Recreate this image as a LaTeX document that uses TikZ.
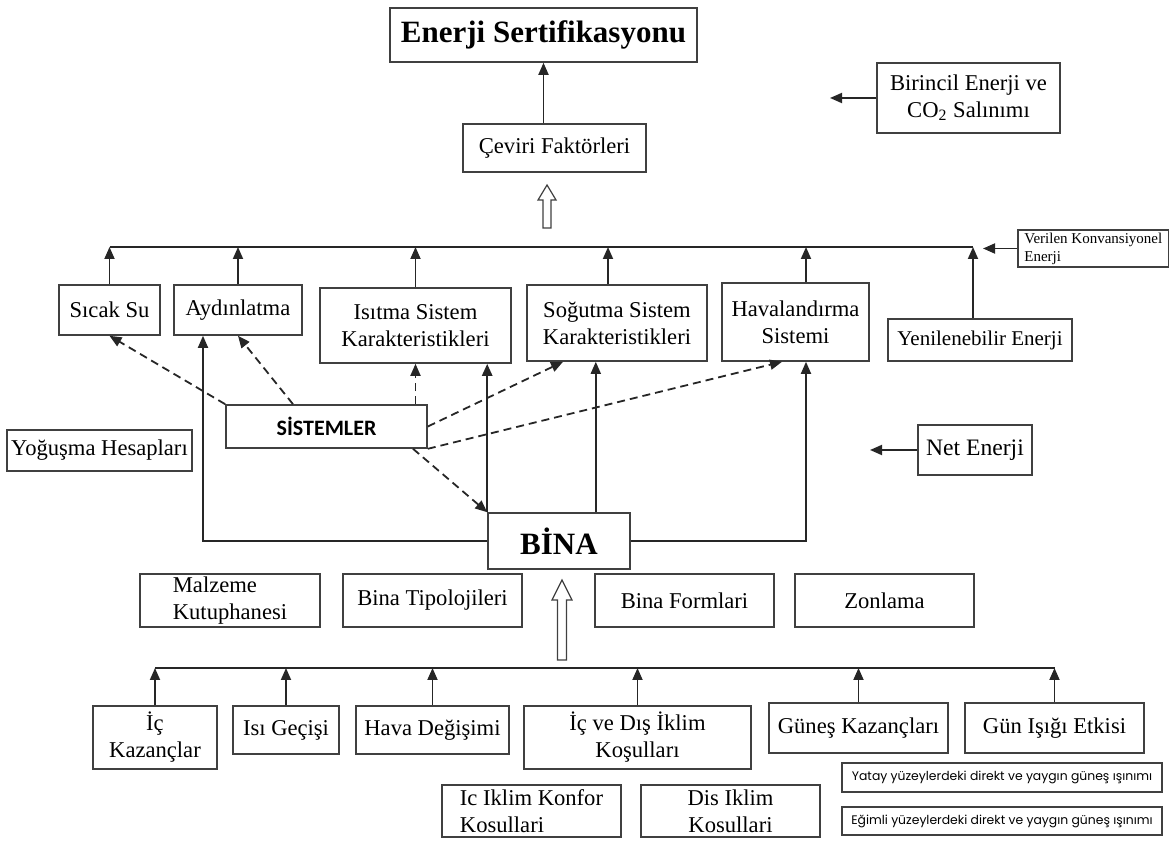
\documentclass[tikz,border=0pt]{standalone}
\usepackage{fontspec}
\setmainfont{Liberation Serif}
\newfontfamily\sistfont{Carlito}
\newfontfamily\gothfont{Poppins}
\usepackage{tikz}
\usetikzlibrary{arrows.meta}

\begin{document}
\begin{tikzpicture}[x=0.5pt,y=-0.5pt,
  box/.style={draw=black!75,line width=0.8pt,inner sep=1pt,align=center,font=\fontsize{11.3}{13.5}\selectfont},
  sz/.style 2 args={minimum width=#1*0.5pt,minimum height=#2*0.5pt},
  arr/.style={draw=black!85,line width=0.9pt,-{Triangle[length=6pt,width=5pt]}},
  darr/.style={arr,dash pattern=on 4pt off 2.5pt},
  link/.style={draw=black!85,line width=0.9pt},
  hollow/.style={draw=black!75,line width=0.6pt,fill=white}]
\useasboundingbox (0,0) rectangle (1169,844);

% certificate and conversion
\node[box,sz={307}{54},font=\fontsize{15.5}{18}\selectfont\bfseries] (cert) at (543.5,35) {Enerji Sertifikasyonu};
\node[box,sz={183}{48}] (ceviri) at (554.5,148) {Çeviri Faktörleri};
\node[box,sz={183}{70}] (birincil) at (968.5,98) {Birincil Enerji ve\\CO\textsubscript{2} Salınımı};
\node[box,sz={151}{37},anchor=west,align=left,inner xsep=2pt,font=\fontsize{7.5}{9}\selectfont] (verilen) at (1017,248.5) {Verilen Konvansiyonel\\Enerji};

% systems
\node[box,sz={101}{50}] (sicak) at (109.5,310) {Sıcak Su};
\node[box,sz={128}{50}] (aydin) at (238,310) {Aydınlatma};
\node[box,sz={191}{75}] (isitma) at (415.5,325.5) {Isıtma Sistem\\Karakteristikleri};
\node[box,sz={180}{76}] (sogutma) at (617,323) {Soğutma Sistem\\Karakteristikleri};
\node[box,sz={147}{78}] (havalan) at (795.5,322) {Havalandırma\\Sistemi};
\node[box,sz={184}{42},font=\fontsize{10.5}{12}\selectfont] (yenilen) at (980,340) {Yenilenebilir Enerji};
\node[box,sz={114}{50},font=\fontsize{11.8}{14}\selectfont] (net) at (975,450) {Net Enerji};
\node[box,sz={201}{43},font=\sistfont\bfseries\fontsize{11}{13}\selectfont] (sistem) at (326.5,426.5) {SİSTEMLER};
\node[box,sz={185}{41}] (yogusma) at (99.5,450.5) {Yoğuşma Hesapları};

% building
\node[box,sz={142}{56},font=\fontsize{15.5}{18}\selectfont\bfseries] (bina) at (559,541) {BİNA};
\node[box,sz={180}{53},align=left] (malzeme) at (230,600.5) {Malzeme\\Kutuphanesi};
\node[box,sz={179}{53}] (tipo) at (432.5,600.5) {Bina Tipolojileri};
\node[box,sz={179}{53}] (formlar) at (684.5,600.5) {Bina Formlari};
\node[box,sz={179}{53}] (zonlama) at (884.5,600.5) {Zonlama};

% inputs
\node[box,sz={124}{63}] (ickaz) at (155,737.5) {İç\\Kazançlar};
\node[box,sz={106}{48}] (isigec) at (286,730) {Isı Geçişi};
\node[box,sz={153}{48}] (hava) at (432.5,730) {Hava Değişimi};
\node[box,sz={227}{63}] (icdis) at (637.5,737.5) {İç ve Dış İklim\\Koşulları};
\node[box,sz={179}{50}] (gunes) at (858.5,728) {Güneş Kazançları};
\node[box,sz={179}{50}] (gunisigi) at (1054.5,728) {Gün Işığı Etkisi};
\node[box,sz={179}{52},align=left] (ickon) at (531.5,811) {Ic Iklim Konfor\\Kosullari};
\node[box,sz={179}{52}] (disik) at (730.5,811) {Dis Iklim\\Kosullari};
\node[box,sz={320}{29},font=\gothfont\fontsize{6.2}{7}\selectfont] (yatay) at (1002,777.5) {Yatay yüzeylerdeki direkt ve yaygın güneş ışınımı};
\node[box,sz={320}{28},font=\gothfont\fontsize{6.2}{7}\selectfont] (egimli) at (1002,821) {Eğimli yüzeylerdeki direkt ve yaygın güneş ışınımı};

\coordinate (tline) at (0,247);
\coordinate (bline) at (0,668);
\coordinate (ren) at ([xshift=-3.5pt]yenilen.north);
\coordinate (ay) at (203,541);
\coordinate (hv) at (806,541);
\coordinate (vk) at (983,247);
\coordinate (bz) at (830,98);
\coordinate (nz) at (870,450);

% upper connectors
\draw[arr] (ceviri.north -| cert.south) -- (cert.south);
\draw[hollow] (547,185) -- (556,200) -- (551,200) -- (551,228) -- (543,228) -- (543,200) -- (538,200) -- cycle;
\draw[link] (sicak.north |- tline) -- (ren |- tline);
\foreach \n in {sicak,aydin,isitma}
  \draw[arr] (\n.north) -- (\n.north |- tline);
\draw[arr] ([xshift=-4.5pt]sogutma.north) -- ([xshift=-4.5pt]sogutma.north |- tline);
\draw[arr] (hv |- havalan.north) -- (hv |- tline);
\draw[arr] (ren) -- (ren |- tline);
\draw[arr] (verilen.west) -- (verilen.west -| vk);
\draw[arr] (birincil.west) -- (birincil.west -| bz);
\draw[arr] (net.west) -- (net.west -| nz);

% dashed links from the systems
\draw[darr] (sistem.north west) -- (sicak.south);
\draw[darr] ([xshift=-16.75pt]sistem.north) -- (aydin.south);
\draw[darr] (sistem.north -| isitma.south) -- (isitma.south);
\draw[darr] (sistem.east) -- ([xshift=-27pt]sogutma.south);
\draw[darr] (sistem.south east) -- ([xshift=-6.75pt]havalan.south);
\draw[darr] ([xshift=43.25pt]sistem.south) -- (bina.north west);

% building to systems
\draw[arr,line width=1.2pt] (bina.north west) -- (bina.north west |- isitma.south);
\draw[arr] ([xshift=-17.5pt]bina.north east) -- ([xshift=-17.5pt]bina.north east |- sogutma.south);
\draw[arr] (bina.west) -- (ay) -- (ay |- aydin.south);
\draw[arr] (bina.east) -- (hv) -- (hv |- havalan.south);

% lower connectors
\draw[hollow] (562,580) -- (572,600) -- (566.5,600) -- (566.5,660) -- (557.5,660) -- (557.5,600) -- (552,600) -- cycle;
\draw[link] (ickaz.north |- bline) -- (gunisigi.north |- bline);
\foreach \n in {ickaz,isigec,hava,icdis,gunes,gunisigi}
  \draw[arr] (\n.north) -- (\n.north |- bline);
\end{tikzpicture}
\end{document}
